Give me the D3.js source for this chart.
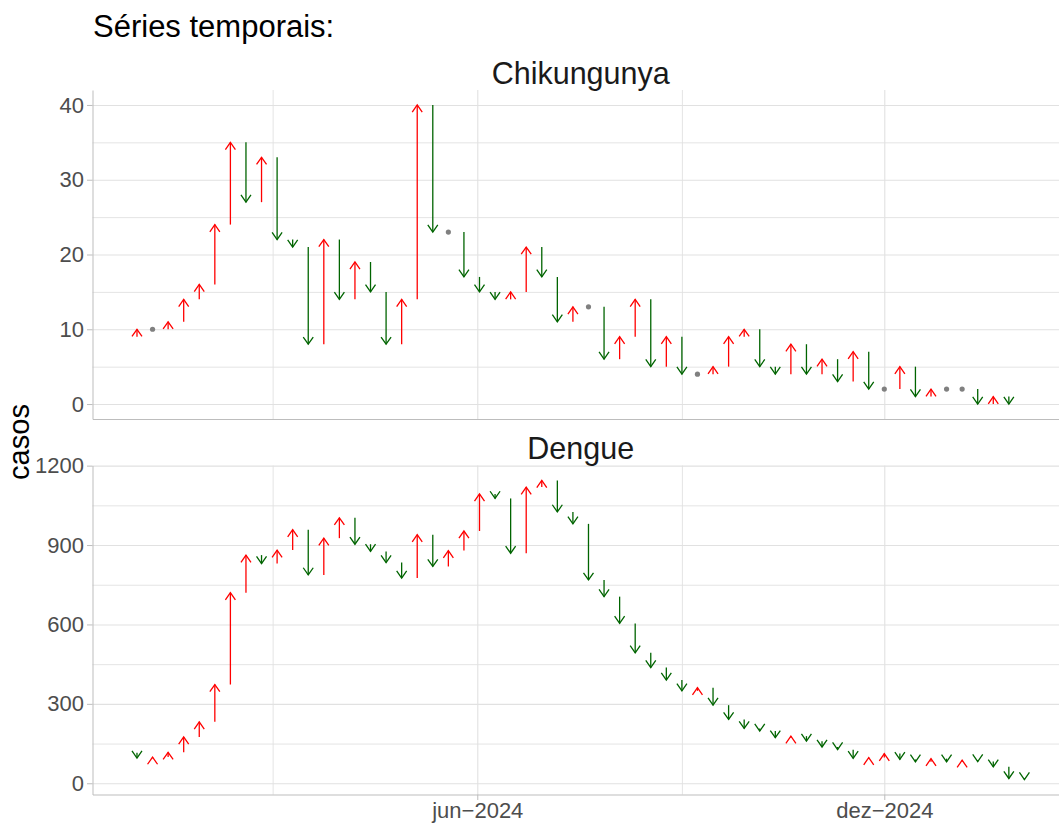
<!DOCTYPE html>
<html>
<head>
<meta charset="utf-8">
<script src="https://cdn.jsdelivr.net/npm/d3@7"></script>
<style>
  body { margin: 0; background: #fff; }
  svg { display: block; font-family: "Liberation Sans", Arial, sans-serif; }
  .grid line { stroke: #e1e1e1; }
  .grid path { display: none; }
  .axis path, .axis line { stroke: #bdbdbd; }
  .axis text { fill: #4d4d4d; font-size: 22px; }
</style>
</head>
<body>
<svg id="chart" width="1059" height="823"></svg>
<script>
// weekly dates, first one is only the starting point of the first arrow
const weeks = ['2023-12-24', '2023-12-31', '2024-01-07', '2024-01-14', '2024-01-21', '2024-01-28',
  '2024-02-04', '2024-02-11', '2024-02-18', '2024-02-25', '2024-03-03', '2024-03-10', '2024-03-17',
  '2024-03-24', '2024-03-31', '2024-04-07', '2024-04-14', '2024-04-21', '2024-04-28', '2024-05-05',
  '2024-05-12', '2024-05-19', '2024-05-26', '2024-06-02', '2024-06-09', '2024-06-16', '2024-06-23',
  '2024-06-30', '2024-07-07', '2024-07-14', '2024-07-21', '2024-07-28', '2024-08-04', '2024-08-11',
  '2024-08-18', '2024-08-25', '2024-09-01', '2024-09-08', '2024-09-15', '2024-09-22', '2024-09-29',
  '2024-10-06', '2024-10-13', '2024-10-20', '2024-10-27', '2024-11-03', '2024-11-10', '2024-11-17',
  '2024-11-24', '2024-12-01', '2024-12-08', '2024-12-15', '2024-12-22', '2024-12-29', '2025-01-05',
  '2025-01-12', '2025-01-19', '2025-01-26', '2025-02-02']

const chikungunya = [9, 10, 10, 11, 14, 16, 24, 35, 27, 33, 22, 21, 8, 22, 14, 19, 15, 8, 14, 40,
  23, 23, 17, 15, 14, 15, 21, 17, 11, 13, 13, 6, 9, 14, 5, 9, 4, 4, 5, 9, 10, 5, 4, 8, 4, 6, 3, 7,
  2, 2, 5, 1, 2, 2, 2, 0, 1, 0, null]

const dengue = [115, 95, 99, 117, 175, 232, 373, 720, 862, 830, 881, 958, 787, 926, 1003, 903, 876,
  834, 775, 939, 819, 879, 953, 1093, 1076, 869, 1119, 1144, 1025, 980, 768, 705, 604, 493, 437,
  390, 349, 361, 295, 241, 207, 197, 172, 178, 159, 137, 127, 94, 97, 112, 90, 81, 93, 81, 87, 82,
  62, 18, 14]

const xTicks = ['2024-06-01', '2024-12-01']
const xTickLabels = ['jun\u22122024', 'dez\u22122024']
const xMinor = ['2024-03-01', '2024-09-01']

const chikTicks = [0, 10, 20, 30, 40]
const chikMinor = [5, 15, 25, 35]
const dengueTicks = [0, 300, 600, 900, 1200]
const dengueMinor = [150, 450, 750, 1050]

const parse = d3.timeParse('%Y-%m-%d')
const svg = d3.select('#chart')

const left = 92.5
const x = d3.scaleTime()
  .domain([parse('2023-12-11'), parse('2025-02-22')])
  .range([left, 1068.9])
const right = x.range()[1]

const panels = [
  {name: 'Chikungunya', values: chikungunya, top: 90, bottom: 419, domain: [-2, 42],
   ticks: chikTicks, minor: chikMinor, stripY: 84, xLabels: false},
  {name: 'Dengue', values: dengue, top: 465.5, bottom: 794.5, domain: [-42.5, 1200.5],
   ticks: dengueTicks, minor: dengueMinor, stripY: 459, xLabels: true}
]

const headW = 5, headL = 7.2

panels.forEach(p => {
  const y = d3.scaleLinear().domain(p.domain).range([p.bottom, p.top])
  const h = p.bottom - p.top

  // grid
  svg.append('g').attr('class', 'grid')
    .attr('transform', `translate(0, ${p.bottom})`)
    .call(d3.axisBottom(x).tickValues(xMinor.map(parse)).tickSize(-h).tickFormat(''))
    .selectAll('line').attr('stroke-width', 0.9)
  svg.append('g').attr('class', 'grid')
    .attr('transform', `translate(0, ${p.bottom})`)
    .call(d3.axisBottom(x).tickValues(xTicks.map(parse)).tickSize(-h).tickFormat(''))
    .selectAll('line').attr('stroke-width', 1.1)
  svg.append('g').attr('class', 'grid')
    .attr('transform', `translate(${left}, 0)`)
    .call(d3.axisLeft(y).tickValues(p.minor).tickSize(-(right - left)).tickFormat(''))
    .selectAll('line').attr('stroke-width', 0.9)
  svg.append('g').attr('class', 'grid')
    .attr('transform', `translate(${left}, 0)`)
    .call(d3.axisLeft(y).tickValues(p.ticks).tickSize(-(right - left)).tickFormat(''))
    .selectAll('line').attr('stroke-width', 1.1)

  // axes
  svg.append('g').attr('class', 'axis')
    .attr('transform', `translate(${left}, 0)`)
    .call(d3.axisLeft(y).tickValues(p.ticks).tickFormat(d3.format('d'))
      .tickSize(5.5).tickSizeOuter(0).tickPadding(3))

  const xAxis = p.xLabels
    ? d3.axisBottom(x).tickValues(xTicks.map(parse)).tickFormat((d, i) => xTickLabels[i])
        .tickSize(5.5).tickSizeOuter(0).tickPadding(2.3)
    : d3.axisBottom(x).tickValues([]).tickSizeOuter(0)
  svg.append('g').attr('class', 'axis')
    .attr('transform', `translate(0, ${p.bottom})`)
    .call(xAxis)

  svg.selectAll('.axis').attr('font-family', null).attr('font-size', null)

  // strip label
  svg.append('text')
    .attr('x', (left + right) / 2)
    .attr('y', p.stripY)
    .attr('text-anchor', 'middle')
    .attr('font-size', 30.5)
    .attr('fill', '#1a1a1a')
    .text(p.name)

  // week to week changes
  const changes = []
  for (let i = 1; i < weeks.length; i++) {
    if (p.values[i] == null) continue
    changes.push({date: parse(weeks[i]), from: p.values[i - 1], to: p.values[i]})
  }

  const marks = svg.append('g')
  marks.selectAll('circle')
    .data(changes.filter(d => d.to === d.from))
    .join('circle')
    .attr('cx', d => x(d.date))
    .attr('cy', d => y(d.to))
    .attr('r', 2.6)
    .attr('fill', '#808080')

  const moves = changes.filter(d => d.to !== d.from)
  const col = d => d.to > d.from ? '#ff0000' : '#006400'
  marks.selectAll('line')
    .data(moves)
    .join('line')
    .attr('x1', d => x(d.date))
    .attr('x2', d => x(d.date))
    .attr('y1', d => y(d.from))
    .attr('y2', d => y(d.to))
    .attr('stroke', col)
    .attr('stroke-width', 1.3)
  marks.selectAll('path')
    .data(moves)
    .join('path')
    .attr('d', d => {
      const cx = x(d.date), ty = y(d.to)
      const by = d.to > d.from ? ty + headL : ty - headL
      return `M${cx - headW},${by}L${cx},${ty}L${cx + headW},${by}`
    })
    .attr('fill', 'none')
    .attr('stroke', col)
    .attr('stroke-width', 1.3)
})

svg.append('text')
  .attr('x', 93)
  .attr('y', 37)
  .attr('font-size', 31)
  .attr('fill', '#000')
  .text('Séries temporais:')

svg.append('text')
  .attr('transform', 'translate(29, 442) rotate(-90)')
  .attr('text-anchor', 'middle')
  .attr('font-size', 29)
  .attr('fill', '#000')
  .text('casos')
</script>
</body>
</html>
